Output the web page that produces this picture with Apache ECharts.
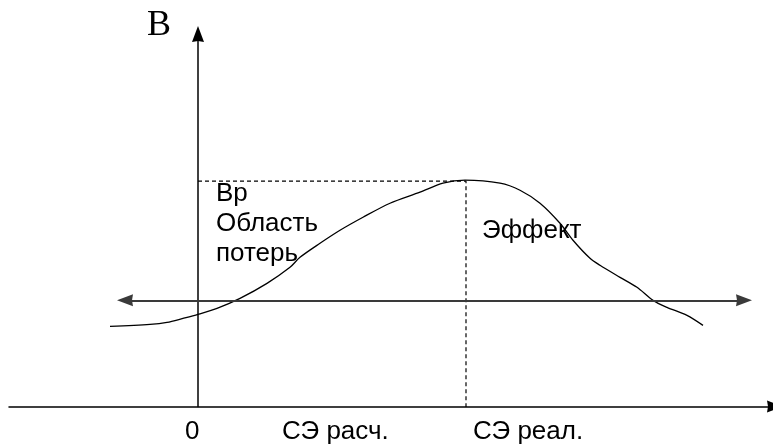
<!DOCTYPE html>
<html>
<head>
<meta charset="utf-8">
<script src="https://cdn.jsdelivr.net/npm/echarts@6/dist/echarts.min.js"></script>
<style>html,body{margin:0;padding:0;background:#fff;}#c{width:773px;height:446px;}</style>
</head>
<body>
<div id="c"></div>
<script>
// Curve B(x) (arbitrary units, x=0 at vertical axis)
const curveX = [-88,-48,-31,-15,0,19,42,69,92,102,122,142,165,192,222,245,267,302,322,342,362,375,392,402,422,439,455,469,489,505];
const curveY = [80,82,84,88,92,98,108,123,139,149,163,176,189,203,214,223,226,223,216,203,183,166,148,141,129,119,106,99,91,81];
// Peak (Bp at СЭ реал.)
const peakX = 268;
const peakY = 225;
// Horizontal double arrow level and extent (arrow centres)
const levelY = 106;
const levelX = [-73, 546];
// Axis ranges
const xRange = [-189, 577];
const yRange = [0, 372];
// Text labels
const axisTitle = 'B';
const tickLabels = ['0', 'СЭ расч.', 'СЭ реал.'];
const areaLabels = ['Bp', 'Область', 'потерь', 'Эффект'];

const chart = echarts.init(document.getElementById('c'), null, {renderer: 'canvas'});
const sans = '"Liberation Sans", Arial, sans-serif';
const fs = 26;
const arrow = 'path://M6,0 L12,16 L6,15 L0,16 Z';
function txt(text, x, y, extra) {
  return {type: 'text', x: x, y: y, style: Object.assign({text: text, fill: '#000', font: fs + 'px ' + sans, verticalAlign: 'top', align: 'left'}, extra || {})};
}
chart.setOption({
  animation: false,
  backgroundColor: '#fff',
  grid: {left: 9, top: 34, width: 766, height: 372.5, containLabel: false, outerBoundsMode: 'none'},
  xAxis: {
    type: 'value', min: xRange[0], max: xRange[1],
    axisLine: {show: true, onZero: false, symbol: ['none', arrow], symbolSize: [12, 16], lineStyle: {color: '#000', width: 1.5}},
    axisTick: {show: false}, axisLabel: {show: false}, splitLine: {show: false}
  },
  yAxis: {
    type: 'value', min: yRange[0], max: yRange[1],
    axisLine: {show: true, onZero: true, symbol: ['none', arrow], symbolSize: [12, 16], lineStyle: {color: '#000', width: 1.5}},
    axisTick: {show: false}, axisLabel: {show: false}, splitLine: {show: false}
  },
  series: [
    {
      type: 'line', smooth: 0.3, symbol: 'none',
      data: curveX.map((x, i) => [x, curveY[i]]),
      lineStyle: {color: '#000', width: 1.3},
      z: 3
    },
    {
      type: 'line', symbol: 'none',
      data: [[0, peakY], [peakX, peakY], [peakX, -5]],
      lineStyle: {color: '#000', width: 1.2, type: [4, 3]},
      z: 2
    },
    {
      type: 'line', symbol: 'none', data: [],
      markLine: {
        silent: true, symbol: [arrow, arrow], symbolSize: [12, 16],
        label: {show: false},
        lineStyle: {color: '#3a3a3a', width: 2, type: 'solid'},
        data: [[{coord: [levelX[0], levelY]}, {coord: [levelX[1], levelY]}]]
      }
    }
  ],
  graphic: [
    txt(axisTitle, 147, 8, {font: '36px "Liberation Serif", "Times New Roman", serif'}),
    txt(areaLabels[0], 216, 181),
    txt(areaLabels[1], 216, 211),
    txt(areaLabels[2], 216, 241),
    txt(areaLabels[3], 482, 218),
    txt(tickLabels[0], 185, 419),
    txt(tickLabels[1], 282, 419),
    txt(tickLabels[2], 473, 419)
  ]
});
</script>
</body>
</html>
